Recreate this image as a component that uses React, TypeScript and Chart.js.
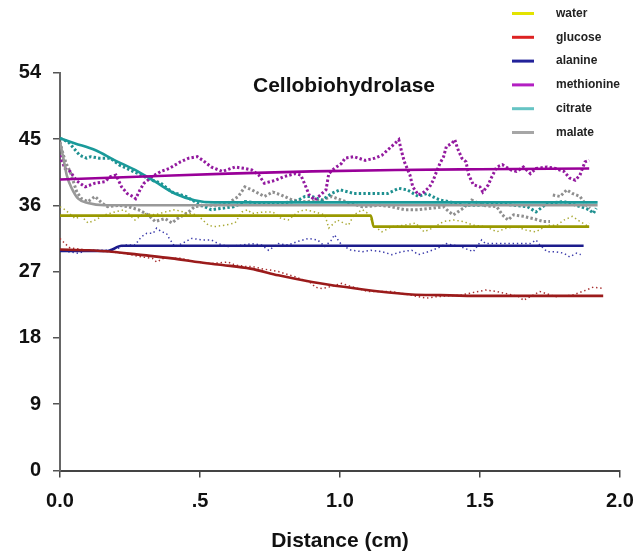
import { useEffect, useRef } from "react";
import { Chart, registerables } from "chart.js";

Chart.register(...registerables);

const FONT = "'Liberation Sans', Arial, Helvetica, sans-serif";

const chartTitle = "Cellobiohydrolase";
const xAxisTitle = "Distance (cm)";
const xTickLabels = ["0.0", ".5", "1.0", "1.5", "2.0"];
const seriesNames = ["water", "glucose", "alanine", "methionine", "citrate", "malate"];
const legendColors = ["#e3e300", "#dd2222", "#22229a", "#b31fc2", "#66c4c4", "#a6a6a6"];
const fitColors = ["#999900", "#9b1b1b", "#1c1c8c", "#990099", "#1a9a9a", "#999999"];
const rawColors = ["#a9a935", "#a83030", "#3b3bab", "#931a9f", "#1f9090", "#8f8f8f"];

// ---- raw measurements ----
const waterX = [0, 0.018, 0.054, 0.077, 0.1, 0.125, 0.16, 0.196, 0.23, 0.268, 0.3, 0.34, 0.375, 0.41, 0.46, 0.49, 0.53, 0.55, 0.59, 0.625, 0.65, 0.67, 0.685, 0.73, 0.76, 0.79, 0.815, 0.85, 0.875, 0.91, 0.946, 0.96, 0.99, 1.03, 1.05, 1.08, 1.1, 1.125, 1.15, 1.185, 1.23, 1.27, 1.3, 1.33, 1.37, 1.405, 1.44, 1.476, 1.52, 1.56, 1.595, 1.63, 1.667, 1.7, 1.74, 1.775, 1.8, 1.83, 1.857, 1.88, 1.89];
const waterY = [35.8, 35.4, 34.2, 34.5, 33.6, 34.0, 34.7, 35.1, 35.4, 34.0, 34.9, 34.7, 35.1, 35.4, 34.9, 34.7, 33.3, 33.1, 33.3, 33.6, 35.1, 35.4, 34.9, 35.1, 35.1, 34.2, 34.0, 35.1, 35.4, 35.1, 34.7, 32.9, 34.0, 33.3, 34.7, 35.4, 34.9, 33.1, 32.4, 33.1, 33.3, 33.6, 32.4, 32.9, 33.8, 34.0, 33.8, 33.3, 33.1, 32.4, 32.9, 33.1, 32.6, 32.4, 33.3, 33.3, 34.0, 34.5, 33.8, 33.3, 33.6];

const glucoseX = [0, 0.018, 0.036, 0.08, 0.12, 0.18, 0.24, 0.29, 0.33, 0.345, 0.37, 0.43, 0.49, 0.54, 0.6, 0.625, 0.66, 0.685, 0.72, 0.78, 0.84, 0.9, 0.91, 0.935, 0.96, 1.006, 1.03, 1.1, 1.185, 1.24, 1.28, 1.31, 1.345, 1.43, 1.52, 1.56, 1.64, 1.655, 1.714, 1.77, 1.83, 1.88, 1.905, 1.94];
const glucoseY = [31.5, 30.8, 30.2, 30.0, 29.8, 29.7, 29.4, 29.0, 28.8, 28.3, 28.8, 28.8, 28.3, 28.1, 28.3, 27.9, 27.7, 27.7, 27.4, 27.0, 26.3, 25.4, 24.9, 24.7, 24.9, 25.4, 25.1, 24.3, 24.3, 23.9, 23.6, 23.4, 23.6, 23.8, 24.5, 24.3, 23.6, 23.1, 24.3, 23.6, 23.8, 24.5, 24.9, 24.7];

const alanineX = [0, 0.03, 0.065, 0.1, 0.14, 0.17, 0.21, 0.23, 0.268, 0.29, 0.31, 0.333, 0.345, 0.363, 0.38, 0.39, 0.41, 0.435, 0.47, 0.51, 0.54, 0.565, 0.6, 0.65, 0.685, 0.72, 0.745, 0.78, 0.815, 0.85, 0.887, 0.92, 0.946, 0.97, 0.98, 1.006, 1.04, 1.08, 1.11, 1.15, 1.185, 1.22, 1.256, 1.28, 1.315, 1.35, 1.38, 1.43, 1.476, 1.506, 1.52, 1.56, 1.607, 1.64, 1.68, 1.7, 1.714, 1.74, 1.77, 1.8, 1.82, 1.845, 1.86];
const alanineY = [29.9, 29.7, 29.5, 29.9, 29.9, 29.9, 30.2, 30.6, 30.6, 31.7, 32.2, 32.2, 32.9, 32.4, 32.2, 31.5, 30.4, 30.8, 31.5, 31.3, 31.3, 30.8, 30.4, 30.6, 30.8, 30.6, 29.9, 30.8, 30.6, 31.1, 31.5, 31.3, 30.4, 31.3, 32.0, 30.6, 29.9, 29.7, 29.9, 29.7, 29.3, 29.7, 29.9, 29.3, 29.7, 30.2, 30.8, 30.4, 29.7, 31.3, 30.8, 30.8, 30.8, 30.8, 30.8, 31.3, 30.6, 29.7, 29.7, 29.5, 29.0, 29.5, 29.3];

const methionineX = [0, 0.006, 0.018, 0.036, 0.06, 0.09, 0.125, 0.16, 0.18, 0.2, 0.22, 0.24, 0.26, 0.27, 0.286, 0.3, 0.33, 0.36, 0.39, 0.43, 0.46, 0.49, 0.51, 0.54, 0.58, 0.625, 0.66, 0.685, 0.71, 0.73, 0.77, 0.8, 0.84, 0.86, 0.875, 0.89, 0.91, 0.95, 0.96, 0.98, 1.006, 1.018, 1.05, 1.09, 1.125, 1.15, 1.17, 1.196, 1.21, 1.22, 1.23, 1.25, 1.26, 1.28, 1.3, 1.32, 1.333, 1.345, 1.357, 1.37, 1.38, 1.4, 1.41, 1.42, 1.435, 1.45, 1.46, 1.476, 1.5, 1.51, 1.53, 1.54, 1.56, 1.58, 1.61, 1.63, 1.655, 1.68, 1.7, 1.74, 1.77, 1.8, 1.82, 1.84, 1.857, 1.875, 1.89];
const methionineY = [42.8, 42.1, 41.0, 40.6, 39.3, 38.5, 39.0, 39.2, 39.9, 40.1, 38.5, 37.6, 37.2, 36.9, 38.1, 39.0, 39.9, 40.6, 41.0, 41.9, 42.4, 42.6, 42.1, 41.2, 40.6, 41.2, 41.0, 40.8, 40.1, 39.0, 39.4, 39.9, 40.3, 40.1, 38.8, 37.4, 36.7, 38.1, 40.3, 41.0, 41.7, 42.4, 42.6, 42.1, 42.4, 42.8, 43.5, 44.4, 44.9, 43.3, 41.9, 40.1, 38.5, 37.4, 37.8, 38.5, 39.4, 40.6, 41.7, 42.6, 44.0, 44.4, 44.9, 43.7, 42.4, 41.9, 40.1, 38.8, 38.5, 37.8, 38.8, 39.7, 41.2, 41.5, 40.8, 40.6, 41.2, 40.3, 41.0, 41.2, 41.0, 40.6, 39.7, 39.4, 40.1, 41.9, 42.1];

const citrateX = [0, 0.03, 0.07, 0.095, 0.11, 0.14, 0.18, 0.21, 0.25, 0.29, 0.33, 0.36, 0.4, 0.45, 0.49, 0.54, 0.58, 0.62, 0.66, 0.71, 0.78, 0.84, 0.875, 0.9, 0.935, 0.97, 1.0, 1.05, 1.11, 1.17, 1.21, 1.24, 1.28, 1.31, 1.345, 1.36, 1.39, 1.44, 1.5, 1.56, 1.62, 1.67, 1.7, 1.74, 1.8, 1.86, 1.89, 1.905, 1.915];
const citrateY = [45.1, 44.6, 42.8, 42.4, 42.6, 42.4, 42.4, 41.5, 40.8, 40.1, 39.4, 39.0, 37.8, 37.2, 36.3, 35.4, 35.6, 35.8, 36.5, 36.3, 36.3, 36.5, 37.2, 37.2, 36.7, 37.6, 38.1, 37.6, 37.6, 37.6, 38.3, 38.1, 37.2, 37.6, 36.9, 36.7, 36.5, 36.0, 36.0, 36.3, 36.0, 35.8, 35.1, 36.3, 36.5, 35.8, 35.4, 34.9, 35.6];

const malateX = [0, 0.012, 0.024, 0.036, 0.048, 0.06, 0.077, 0.1, 0.125, 0.15, 0.17, 0.21, 0.244, 0.28, 0.315, 0.34, 0.375, 0.4, 0.42, 0.46, 0.48, 0.52, 0.565, 0.6, 0.637, 0.66, 0.685, 0.71, 0.73, 0.76, 0.79, 0.83, 0.875, 0.935, 0.97, 1.02, 1.08, 1.14, 1.185, 1.23, 1.28, 1.33, 1.37, 1.39, 1.405, 1.44, 1.47, 1.51, 1.56, 1.58, 1.6, 1.62, 1.655, 1.69, 1.726, 1.75, 1.755, 1.76, 1.786, 1.81, 1.83, 1.857, 1.88, 1.893];
const malateY = [44.6, 42.8, 41.5, 40.6, 39.2, 37.8, 36.9, 36.5, 37.2, 36.3, 35.8, 36.0, 35.8, 35.4, 34.7, 33.8, 34.2, 33.6, 34.2, 35.1, 35.8, 36.0, 36.0, 36.3, 37.2, 38.5, 38.1, 37.6, 37.2, 37.8, 37.4, 36.7, 36.5, 36.7, 37.2, 36.5, 35.8, 36.0, 35.8, 35.4, 35.4, 35.6, 35.8, 35.1, 34.7, 35.6, 36.7, 36.0, 35.8, 34.7, 34.0, 34.7, 34.5, 34.2, 33.8, 33.8, null, 37.4, 37.2, 38.1, 37.6, 37.2, 36.0, 35.6];

// ---- fitted curves ----
const waterFitX = [0, 1.11, 1.12, 1.89];
const waterFitY = [34.6, 34.6, 33.1, 33.1];
const glucoseFitX = [0, 0.1, 0.185, 0.28, 0.4, 0.49, 0.58, 0.68, 0.78, 0.9, 1.02, 1.14, 1.256, 1.357, 1.5, 1.94];
const glucoseFitY = [30.0, 29.9, 29.7, 29.3, 28.8, 28.3, 27.9, 27.4, 26.5, 25.6, 24.9, 24.3, 23.9, 23.8, 23.7, 23.7];
const alanineFitX = [0, 0.17, 0.22, 1.87];
const alanineFitY = [29.8, 29.8, 30.5, 30.5];
const methionineFitX = [0, 0.3, 0.6, 0.9, 1.2, 1.5, 1.89];
const methionineFitY = [39.5, 39.9, 40.3, 40.6, 40.8, 40.9, 41.0];
const citrateFitX = [0, 0.054, 0.125, 0.196, 0.268, 0.34, 0.41, 0.48, 0.55, 0.68, 1.92];
const citrateFitY = [45.1, 44.4, 43.5, 42.1, 40.8, 39.2, 37.6, 36.7, 36.4, 36.4, 36.4];
const malateFitX = [0, 0.012, 0.024, 0.042, 0.065, 0.1, 0.16, 1.92];
const malateFitY = [44.6, 42.4, 40.1, 38.3, 36.9, 36.3, 36.0, 36.0];

const rawX = [waterX, glucoseX, alanineX, methionineX, citrateX, malateX];
const rawY = [waterY, glucoseY, alanineY, methionineY, citrateY, malateY];
const fitX = [waterFitX, glucoseFitX, alanineFitX, methionineFitX, citrateFitX, malateFitX];
const fitY = [waterFitY, glucoseFitY, alanineFitY, methionineFitY, citrateFitY, malateFitY];
const bigDots = [false, false, false, true, true, true];

export default function App() {
  const ref = useRef<HTMLCanvasElement | null>(null);

  useEffect(() => {
    if (!ref.current) return;
    const pts = (xs: number[], ys: (number | null)[]) => xs.map((x, i) => ({ x, y: ys[i] }));

    const datasets: any[] = [];
    seriesNames.forEach((name, i) => {
      datasets.push({
        label: name + " fit",
        data: pts(fitX[i], fitY[i]),
        borderColor: fitColors[i],
        borderWidth: 2.6,
        pointRadius: 0,
        fill: false,
        cubicInterpolationMode: "monotone",
        order: 1,
      });
      datasets.push({
        label: name,
        data: pts(rawX[i], rawY[i]),
        borderColor: rawColors[i],
        borderWidth: bigDots[i] ? 3 : 1.5,
        borderDash: bigDots[i] ? [2.4, 2.2] : [1.4, 2.8],
        pointRadius: 0,
        fill: false,
        spanGaps: false,
        order: 2,
      });
    });

    const overlay = {
      id: "overlay",
      afterDraw(chart: any) {
        const ctx = chart.ctx;
        ctx.save();
        ctx.fillStyle = "#111";
        ctx.font = `bold 21px ${FONT}`;
        ctx.textAlign = "center";
        ctx.textBaseline = "alphabetic";
        ctx.fillText(chartTitle, 344, 92);
        ctx.font = `bold 12px ${FONT}`;
        ctx.textAlign = "left";
        ctx.textBaseline = "middle";
        seriesNames.forEach((name, i) => {
          const y = 13.5 + i * 23.8;
          ctx.strokeStyle = legendColors[i];
          ctx.lineWidth = 3;
          ctx.beginPath();
          ctx.moveTo(512, y);
          ctx.lineTo(534, y);
          ctx.stroke();
          ctx.fillStyle = "#222";
          ctx.fillText(name, 556, y);
        });
        ctx.restore();
      },
    };

    const chart = new Chart(ref.current, {
      type: "line",
      data: { datasets },
      plugins: [overlay],
      options: {
        animation: false,
        responsive: true,
        maintainAspectRatio: false,
        layout: { padding: { top: 72.7, right: 14, left: 0, bottom: 0 } },
        plugins: { legend: { display: false }, tooltip: { enabled: false }, title: { display: false } },
        scales: {
          x: {
            type: "linear",
            min: 0,
            max: 2,
            afterFit: (s: any) => {
              s.height = 86.5;
              s.paddingLeft = 0;
              s.paddingRight = 0;
            },
            ticks: {
              stepSize: 0.5,
              autoSkip: false,
              maxRotation: 0,
              padding: 12,
              color: "#111",
              font: { family: FONT, size: 20, weight: "bold" },
              callback: (_v: any, i: number) => xTickLabels[i],
            },
            grid: { drawOnChartArea: false, drawTicks: true, tickLength: 7, color: "#444", lineWidth: 1.5 },
            border: { display: true, color: "#444", width: 2 },
            title: {
              display: true,
              text: xAxisTitle,
              color: "#111",
              font: { family: FONT, size: 21, weight: "bold" },
              padding: { top: 0, bottom: 3 },
            },
          },
          y: {
            min: 0,
            max: 54,
            afterFit: (s: any) => {
              s.width = 60;
            },
            ticks: {
              stepSize: 9,
              padding: 12,
              color: "#111",
              font: { family: FONT, size: 20, weight: "bold" },
            },
            grid: { drawOnChartArea: false, drawTicks: true, tickLength: 7, color: "#555", lineWidth: 1.5 },
            border: { display: true, color: "#666", width: 2 },
          },
        },
      },
    });
    return () => chart.destroy();
  }, []);

  return (
    <div style={{ position: "absolute", left: 0, top: 0, width: 634, height: 557 }}>
      <canvas ref={ref} />
    </div>
  );
}
